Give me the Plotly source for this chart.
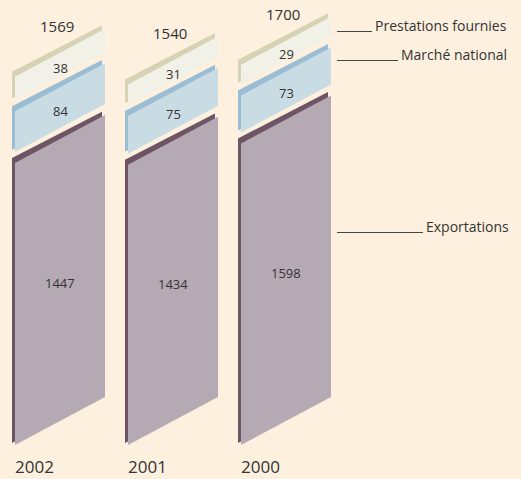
import plotly.graph_objects as go

# ---- data -------------------------------------------------------------
years = ["2002", "2001", "2000"]
exportations = [1447, 1434, 1598]
marche_national = [84, 75, 73]
prestations = [38, 31, 29]
totals = [1569, 1540, 1700]
series_names = ["Exportations", "Marché national", "Prestations fournies"]
series_values = [exportations, marche_national, prestations]

# ---- style ------------------------------------------------------------
BG = "#FDF0DF"
FACE = ["#B5A9B3", "#C9DCE4", "#F2F1E8"]
EDGE = ["#6D5565", "#9ABDD4", "#D6D3B5"]
TXT = "#333333"
FONT = "Open Sans"

W, H = 521, 479
BASE_PX = 445           # baseline position (pixels from top)
L0, STEP, BW = 15, 113, 90
RISE = 48               # slant of the parallelograms
BAND, GAP, SHIFT = 5, 6, 3
LEG_X0 = 337
LEG_X_END = [423, 398, 372]
LEG_Y_PX = [232.5, 60.5, 31.5]


def disp(v):
    # compressed display scale used by the original infographic
    return 2.0 * v ** 0.68


fig = go.Figure()
annotations = []
shapes = []

for i, yr in enumerate(years):
    L = L0 + STEP * i
    R = L + BW
    cx = (L + R) / 2
    y = 0.0
    top = 0.0
    for k, vals in enumerate(series_values):
        h = disp(vals[i])
        y0, y1 = y, y + h
        # dark edge (3D side)
        fig.add_trace(go.Scatter(
            x=[L - SHIFT, L - SHIFT, R - SHIFT, R - SHIFT, L - SHIFT],
            y=[y0 + 2, y1 + BAND, y1 + RISE + BAND - 1.6, y0 + RISE, y0 + 2],
            fill="toself", fillcolor=EDGE[k], mode="lines",
            line=dict(width=0, color=EDGE[k]), hoverinfo="skip", showlegend=False))
        # face
        fig.add_trace(go.Scatter(
            x=[L, L, R, R, L],
            y=[y0, y1, y1 + RISE, y0 + RISE, y0],
            fill="toself", fillcolor=FACE[k], mode="lines",
            line=dict(width=0, color=FACE[k]), hoverinfo="skip", showlegend=False))
        annotations.append(dict(
            x=cx, y=(y0 + y1) / 2 + RISE / 2 - 3, text=str(vals[i]),
            showarrow=False, font=dict(family=FONT, size=13, color=TXT),
            xanchor="center", yanchor="middle"))
        top = y1 + BAND
        y = y1 + BAND + GAP
    # total label
    annotations.append(dict(
        x=cx - 3, y=top + RISE / 2 - 1 + 23, text=str(totals[i]),
        showarrow=False, font=dict(family=FONT, size=15, color=TXT),
        xanchor="center", yanchor="middle"))
    # year label
    annotations.append(dict(
        x=L - 2, y=BASE_PX - 466, text=yr, showarrow=False,
        font=dict(family=FONT, size=17, color=TXT),
        xanchor="left", yanchor="middle"))

# legend call-outs
for k, name in enumerate(series_names):
    yl = BASE_PX - LEG_Y_PX[k]
    shapes.append(dict(type="line", x0=LEG_X0, x1=LEG_X_END[k], y0=yl, y1=yl,
                       xref="x", yref="y", line=dict(color="#444444", width=1)))
    annotations.append(dict(
        x=LEG_X_END[k] + 1, y=yl + 6, text=name, showarrow=False,
        font=dict(family=FONT, size=14, color=TXT),
        xanchor="left", yanchor="middle"))

fig.update_layout(
    width=W, height=H,
    margin=dict(l=0, r=0, t=0, b=0),
    paper_bgcolor=BG, plot_bgcolor=BG,
    xaxis=dict(range=[0, W], visible=False, fixedrange=True),
    yaxis=dict(range=[BASE_PX - H, BASE_PX], visible=False, fixedrange=True),
    annotations=annotations, shapes=shapes,
    showlegend=False,
)

fig.write_html(
    "out.html",
    config={"displayModeBar": False},
    post_script="document.body.style.margin='0';document.body.style.overflow='hidden';",
)
